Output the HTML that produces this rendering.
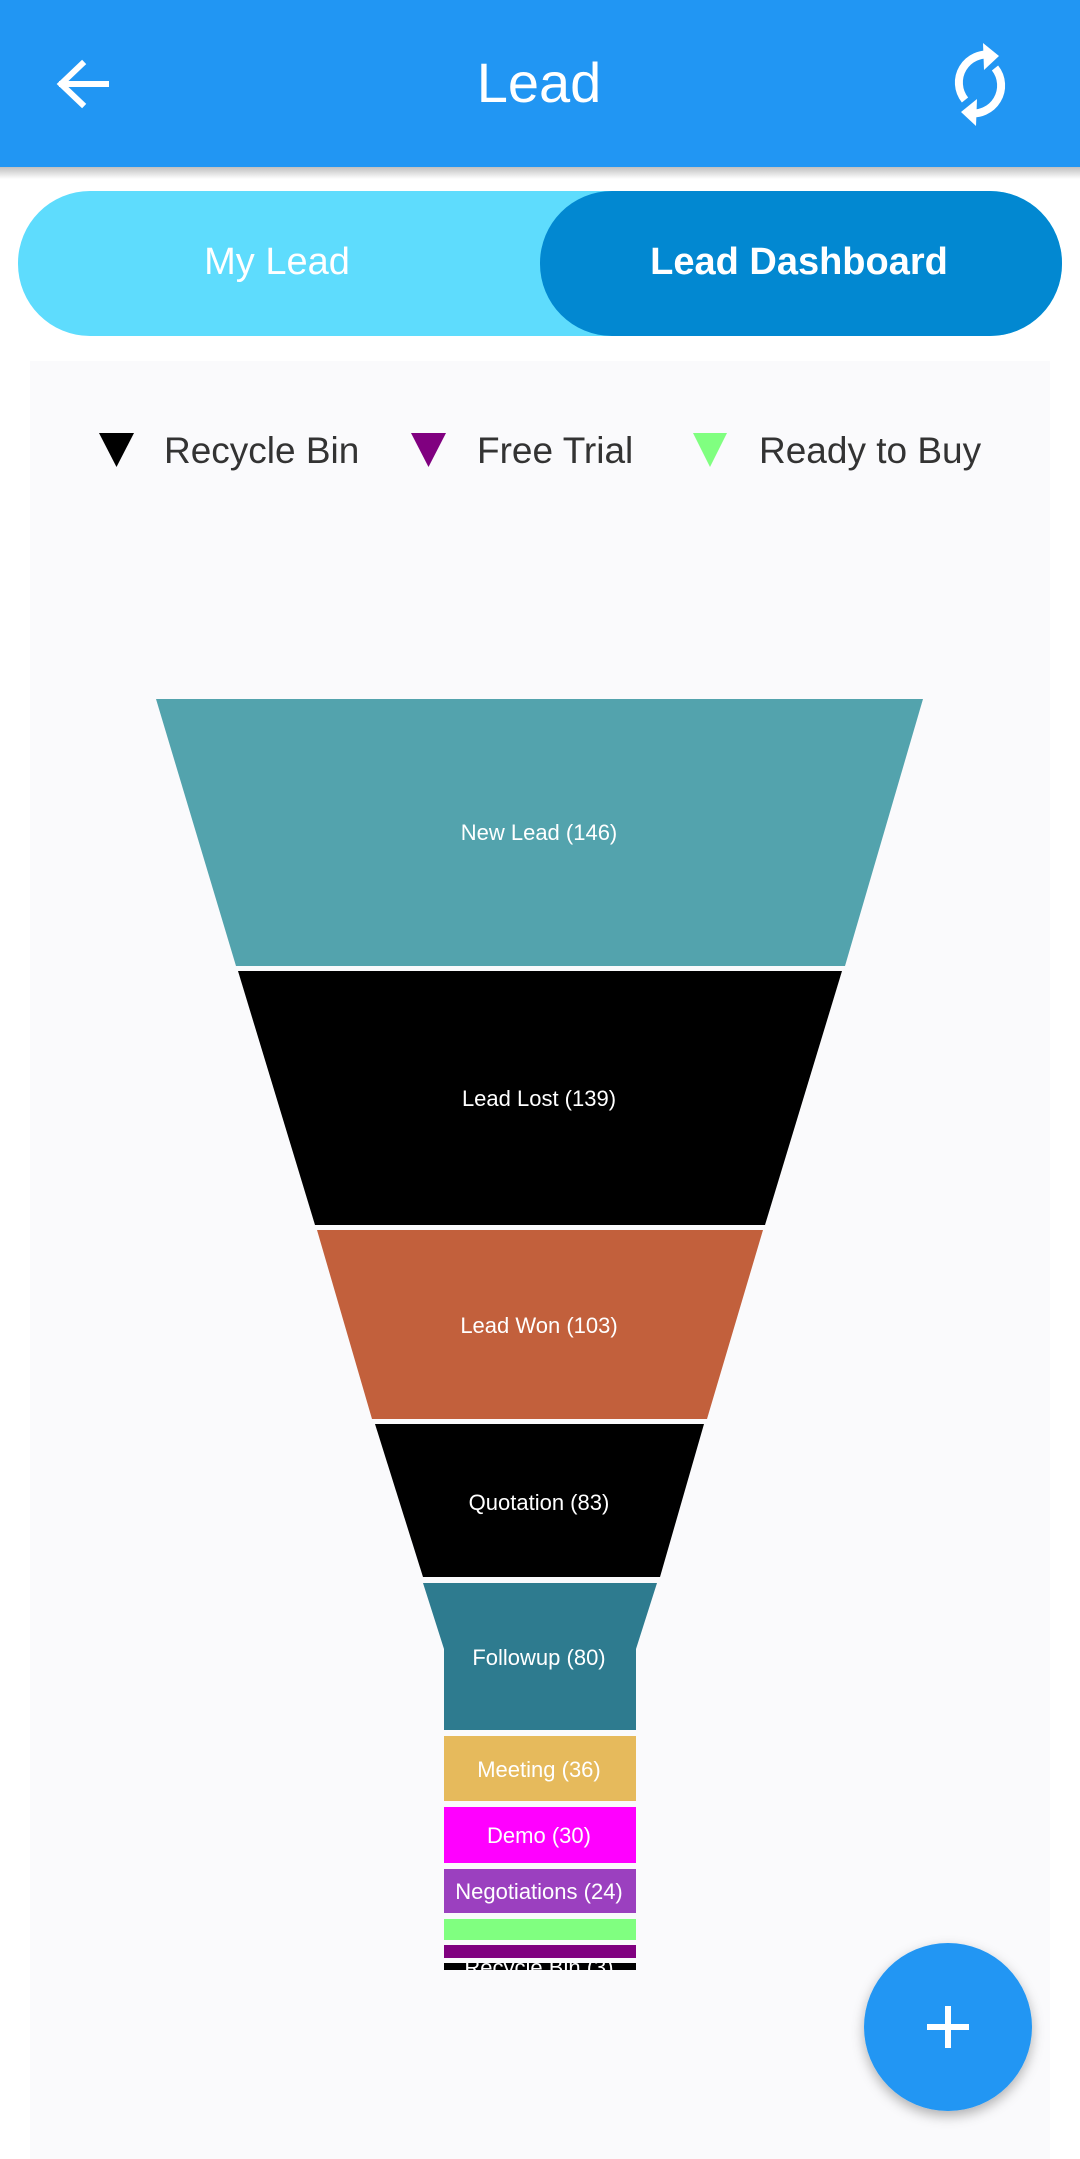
<!DOCTYPE html>
<html><head><meta charset="utf-8"><style>
html,body{margin:0;padding:0;background:#fff;}
svg{display:block;}
text{font-family:"Liberation Sans","DejaVu Sans",sans-serif;}
</style></head><body>
<svg width="1080" height="2159" viewBox="0 0 1080 2159" xmlns="http://www.w3.org/2000/svg">
<defs>
<linearGradient id="sh" x1="0" y1="0" x2="0" y2="1"><stop offset="0" stop-color="#000" stop-opacity="0.25"/><stop offset="1" stop-color="#000" stop-opacity="0"/></linearGradient>
<filter id="fs" x="-30%" y="-30%" width="160%" height="160%"><feDropShadow dx="0" dy="5" stdDeviation="6" flood-opacity="0.3"/></filter>
<clipPath id="cl"><rect x="444" y="1963" width="192" height="7"/></clipPath>
</defs>
<rect width="1080" height="2159" fill="#fff"/>
<!-- header -->
<rect x="0" y="0" width="1080" height="167" fill="#2196F3"/>
<rect x="0" y="167" width="1080" height="12" fill="url(#sh)"/>
<path d="M106 84 H62 M82 64 L61 84 L82 104" stroke="#fff" stroke-width="6" fill="none" stroke-linecap="square"/>
<text x="539" y="102" font-size="56" fill="#fff" text-anchor="middle">Lead</text>
<g stroke="#fff" stroke-width="8" fill="none">
<path d="M965 100 A28 28 0 0 1 992 55"/>
<path d="M995 68 A28 28 0 0 1 968 113"/>
</g>
<path d="M983 43 L999 56 L984 70 Z" fill="#fff"/>
<path d="M977 99 L961 112 L976 126 Z" fill="#fff"/>
<!-- tabs -->
<rect x="18" y="191" width="1044" height="145" rx="72" fill="#5EDCFD"/>
<rect x="540" y="191" width="522" height="145" rx="72" fill="#0288D1"/>
<text x="277" y="274" font-size="38" fill="#fff" text-anchor="middle">My Lead</text>
<text x="799" y="274" font-size="38" font-weight="bold" fill="#fff" text-anchor="middle">Lead Dashboard</text>
<!-- card -->
<rect x="30" y="361" width="1020" height="1798" fill="#FAFAFC"/>
<!-- legend -->
<path d="M99 433 H134 L116.5 467 Z" fill="#000"/>
<text x="164" y="463" font-size="37" fill="#333">Recycle Bin</text>
<path d="M411 433 H446 L428.5 467 Z" fill="#800080"/>
<text x="477" y="463" font-size="37" fill="#333">Free Trial</text>
<path d="M693 433 H727 L710 467 Z" fill="#80FF80"/>
<text x="759" y="463" font-size="37" fill="#333">Ready to Buy</text>
<!-- funnel -->
<path d="M156 699 H923 L845 966 H236 Z" fill="#53A3AD"/>
<path d="M238 971 H842 L765 1225 H315 Z" fill="#000"/>
<path d="M317 1230 H763 L707 1419 H372 Z" fill="#C2603C"/>
<path d="M375 1424 H704 L660 1577 H423 Z" fill="#000"/>
<path d="M423 1583 H657 L636 1649 V1730 H444 V1649 Z" fill="#2E7B8F"/>
<rect x="444" y="1736" width="192" height="65" fill="#E6BA5C"/>
<rect x="444" y="1807" width="192" height="56" fill="#FF00FF"/>
<rect x="444" y="1869" width="192" height="44" fill="#9B40BF"/>
<rect x="444" y="1919" width="192" height="21" fill="#80FF80"/>
<rect x="444" y="1945" width="192" height="13" fill="#800080"/>
<rect x="444" y="1963" width="192" height="7" fill="#000"/>
<g font-size="22" fill="#fff" text-anchor="middle">
<text x="539" y="840">New Lead (146)</text>
<text x="539" y="1106">Lead Lost (139)</text>
<text x="539" y="1333">Lead Won (103)</text>
<text x="539" y="1510">Quotation (83)</text>
<text x="539" y="1665">Followup (80)</text>
<text x="539" y="1777">Meeting (36)</text>
<text x="539" y="1843">Demo (30)</text>
<text x="539" y="1899">Negotiations (24)</text>
<text x="539" y="1975" clip-path="url(#cl)">Recycle Bin (3)</text>
</g>
<!-- FAB -->
<circle cx="948" cy="2027" r="84" fill="#2196F3" filter="url(#fs)"/>
<path d="M948 2006 V2048 M927 2027 H969" stroke="#fff" stroke-width="6"/>
</svg>
</body></html>
